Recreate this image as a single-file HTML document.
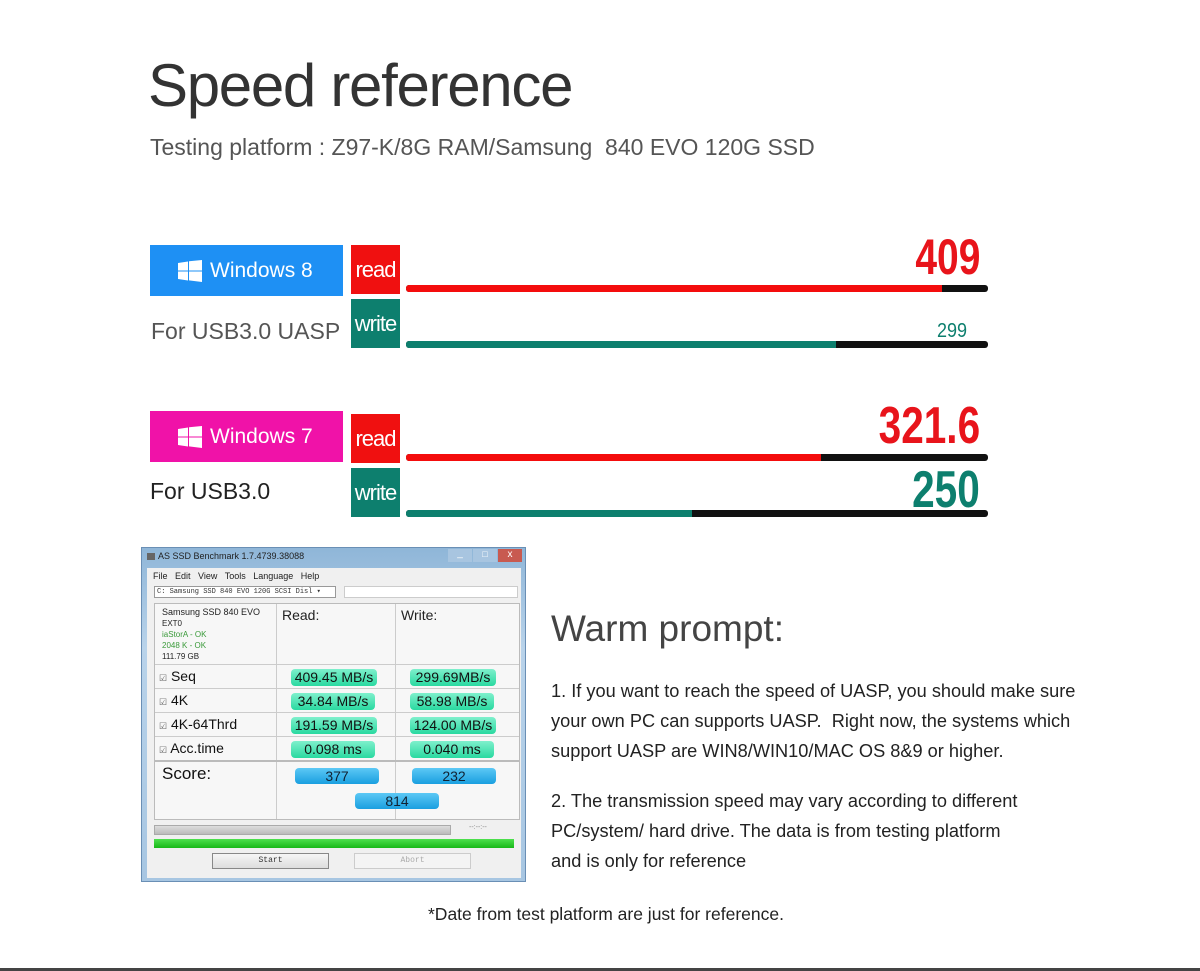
<!DOCTYPE html>
<html><head><meta charset="utf-8"><style>
*{margin:0;padding:0;box-sizing:border-box}
body{width:1200px;height:971px;background:#fff;position:relative;overflow:hidden;font-family:"Liberation Sans",sans-serif;color:#333}
.a{position:absolute;white-space:nowrap}
.bar{position:absolute;height:7px;background:#111;border-radius:3px;left:406px;width:582px}
.bar i{display:block;height:100%;border-radius:3px 0 0 3px}
.lab{position:absolute;left:351px;width:49px;color:#fff;font-size:22px;letter-spacing:-1px;line-height:49px;text-align:center}
.win{position:absolute;left:150px;width:193px;height:51px;color:#fff;font-size:21px;line-height:51px}
.logo{position:absolute;left:28px;top:15px;width:24px;height:22px}
.num{position:absolute;right:220px;font-weight:bold;font-family:"Liberation Sans Narrow","Liberation Sans",sans-serif;transform:scaleX(.78);transform-origin:right top;white-space:nowrap}
.g{background:linear-gradient(#7ff0cc,#2ad9a0);border-radius:4px;position:absolute;height:17px;font-size:14px;text-align:center;line-height:17px;color:#111}
.bl{background:linear-gradient(#5cc8f5,#1a9fe0);border-radius:4px;position:absolute;height:16px;font-size:14px;text-align:center;line-height:16px;color:#123}
.ln{position:absolute;background:#ccc}
</style></head><body>
<div class="a" style="left:148px;top:51px;font-size:60px;color:#333;letter-spacing:-1.3px">Speed reference</div>
<div class="a" style="left:150px;top:134px;font-size:23px;color:#555">Testing platform : Z97-K/8G RAM/Samsung&nbsp; 840 EVO 120G SSD</div>

<div class="win" style="top:245px;background:#1e90f4"><svg class="logo" viewBox="0 0 24 22"><path d="M0 3l10-1.5v9H0zM11 1.3L24 0v10.5H11zM0 11.5h10v9L0 19zM11 11.5h13V22l-13-1.6z" fill="#fff"/></svg><span style="position:absolute;left:60px">Windows 8</span></div>
<div class="lab" style="top:245px;background:#f01010">read</div>
<div class="lab" style="top:299px;background:#0d7f6e">write</div>
<div class="a" style="left:151px;top:318px;font-size:23px;color:#555">For USB3.0 UASP</div>
<div class="bar" style="top:285px"><i style="width:536px;background:#f40d0d"></i></div>
<div class="bar" style="top:341px"><i style="width:430px;background:#0d7f6e"></i></div>
<div class="num" style="top:228px;font-size:50px;color:#e8141b">409</div>
<div class="a" style="left:937px;top:320px;font-size:20px;color:#0d7f6e;transform:scaleX(.9);transform-origin:left top">299</div>

<div class="win" style="top:411px;background:#f012a8"><svg class="logo" viewBox="0 0 24 22"><path d="M0 3l10-1.5v9H0zM11 1.3L24 0v10.5H11zM0 11.5h10v9L0 19zM11 11.5h13V22l-13-1.6z" fill="#fff"/></svg><span style="position:absolute;left:60px">Windows 7</span></div>
<div class="lab" style="top:414px;background:#f01010">read</div>
<div class="lab" style="top:468px;background:#0d7f6e">write</div>
<div class="a" style="left:150px;top:478px;font-size:23px;color:#222">For USB3.0</div>
<div class="bar" style="top:454px"><i style="width:415px;background:#f40d0d"></i></div>
<div class="bar" style="top:510px"><i style="width:286px;background:#0d7f6e"></i></div>
<div class="num" style="top:396px;font-size:52px;color:#e8141b">321.6</div>
<div class="num" style="top:460px;font-size:52px;color:#0d7f6e">250</div>

<!-- screenshot -->
<div style="position:absolute;left:141px;top:547px;width:385px;height:335px;background:linear-gradient(#8fb6d8,#b9d3ea 30%,#a7c6e2);border:1px solid #6a8fb5">
 <div class="a" style="left:16px;top:3px;font-size:9px;color:#222">AS SSD Benchmark 1.7.4739.38088</div>
 <div style="position:absolute;left:5px;top:5px;width:8px;height:7px;background:#666"></div>
 <div style="position:absolute;left:306px;top:1px;width:24px;height:13px;background:#a8c5e0;color:#fff;font-size:10px;text-align:center;line-height:10px">_</div>
 <div style="position:absolute;left:331px;top:1px;width:24px;height:13px;background:#a8c5e0;color:#fff;font-size:9px;text-align:center">□</div>
 <div style="position:absolute;left:356px;top:1px;width:24px;height:13px;background:#c85a50;color:#fff;font-size:10px;text-align:center">x</div>
 <div style="position:absolute;left:5px;top:20px;width:374px;height:310px;background:#f0f0f0">
  <div class="a" style="left:6px;top:3px;font-size:9px;color:#222">File&nbsp;&nbsp; Edit&nbsp;&nbsp; View&nbsp;&nbsp; Tools&nbsp;&nbsp; Language&nbsp;&nbsp; Help</div>
  <div style="position:absolute;left:7px;top:18px;width:182px;height:12px;background:#fff;border:1px solid #999;font-size:7px;font-family:'Liberation Mono',monospace;line-height:11px;padding-left:2px">C: Samsung SSD 840 EVO 120G SCSI Disl ▾</div>
  <div style="position:absolute;left:197px;top:18px;width:174px;height:12px;background:#fff;border:1px solid #ccc"></div>
  <div style="position:absolute;left:7px;top:35px;width:366px;height:217px;background:#f7f7f7;border:1px solid #bbb">
   <div class="ln" style="left:121px;top:0;width:1px;height:215px"></div>
   <div class="ln" style="left:240px;top:0;width:1px;height:215px"></div>
   <div class="ln" style="left:0;top:60px;width:364px;height:1px"></div>
   <div class="ln" style="left:0;top:84px;width:364px;height:1px"></div>
   <div class="ln" style="left:0;top:108px;width:364px;height:1px"></div>
   <div class="ln" style="left:0;top:132px;width:364px;height:1px"></div>
   <div class="ln" style="left:0;top:156px;width:364px;height:2px;background:#bbb"></div>
   <div class="a" style="left:7px;top:3px;font-size:9px;line-height:11px;color:#222">Samsung SSD 840 EVO<br><span style="font-size:8px">EXT0</span><br><span style="color:#3a9a3a;font-size:8px">iaStorA - OK<br>2048 K - OK</span><br><span style="font-size:8px">111.79 GB</span></div>
   <div class="a" style="left:127px;top:3px;font-size:14px;color:#222">Read:</div>
   <div class="a" style="left:246px;top:3px;font-size:14px;color:#222">Write:</div>
   <div class="a" style="left:4px;top:64px;font-size:14px;color:#111"><span style="font-size:9px;color:#666">☑</span> Seq</div>
   <div class="a" style="left:4px;top:88px;font-size:14px;color:#111"><span style="font-size:9px;color:#666">☑</span> 4K</div>
   <div class="a" style="left:4px;top:112px;font-size:14px;color:#111"><span style="font-size:9px;color:#666">☑</span> 4K-64Thrd</div>
   <div class="a" style="left:4px;top:136px;font-size:14px;color:#111"><span style="font-size:9px;color:#666">☑</span> Acc.time</div>
   <div class="g" style="left:136px;top:65px;width:86px">409.45 MB/s</div>
   <div class="g" style="left:255px;top:65px;width:86px">299.69MB/s</div>
   <div class="g" style="left:136px;top:89px;width:84px">34.84 MB/s</div>
   <div class="g" style="left:255px;top:89px;width:84px">58.98 MB/s</div>
   <div class="g" style="left:136px;top:113px;width:86px">191.59 MB/s</div>
   <div class="g" style="left:255px;top:113px;width:86px">124.00 MB/s</div>
   <div class="g" style="left:136px;top:137px;width:84px">0.098 ms</div>
   <div class="g" style="left:255px;top:137px;width:84px">0.040 ms</div>
   <div class="a" style="left:7px;top:160px;font-size:17px;color:#111">Score:</div>
   <div class="bl" style="left:140px;top:164px;width:84px">377</div>
   <div class="bl" style="left:257px;top:164px;width:84px">232</div>
   <div class="bl" style="left:200px;top:189px;width:84px">814</div>
  </div>
  <div style="position:absolute;left:7px;top:257px;width:297px;height:10px;background:linear-gradient(#ddd,#bbb);border:1px solid #aaa"></div>
  <div class="a" style="left:322px;top:256px;font-size:7px;color:#888">--:--:--</div>
  <div style="position:absolute;left:7px;top:271px;width:360px;height:9px;background:linear-gradient(#4ee04e,#18b818)"></div>
  <div style="position:absolute;left:65px;top:285px;width:117px;height:16px;background:linear-gradient(#f6f6f6,#ddd);border:1px solid #888;font-size:8px;text-align:center;line-height:14px;font-family:'Liberation Mono',monospace">Start</div>
  <div style="position:absolute;left:207px;top:285px;width:117px;height:16px;background:#f4f4f4;border:1px solid #ccc;font-size:8px;text-align:center;line-height:14px;color:#aaa;font-family:'Liberation Mono',monospace">Abort</div>
 </div>
</div>

<div class="a" style="left:551px;top:608px;font-size:37px;color:#444">Warm prompt:</div>
<div class="a" style="left:551px;top:676px;font-size:18.2px;line-height:30px;color:#222">1. If you want to reach the speed of UASP, you should make sure<br>your own PC can supports UASP.&nbsp; Right now, the systems which<br>support UASP are WIN8/WIN10/MAC OS 8&amp;9 or higher.</div>
<div class="a" style="left:551px;top:786px;font-size:18.2px;line-height:30px;color:#222">2. The transmission speed may vary according to different<br>PC/system/ hard drive. The data is from testing platform<br>and is only for reference</div>
<div class="a" style="left:428px;top:904px;font-size:17.5px;color:#222">*Date from test platform are just for reference.</div>
<div style="position:absolute;left:0;top:968px;width:1200px;height:3px;background:#444"></div>
</body></html>
